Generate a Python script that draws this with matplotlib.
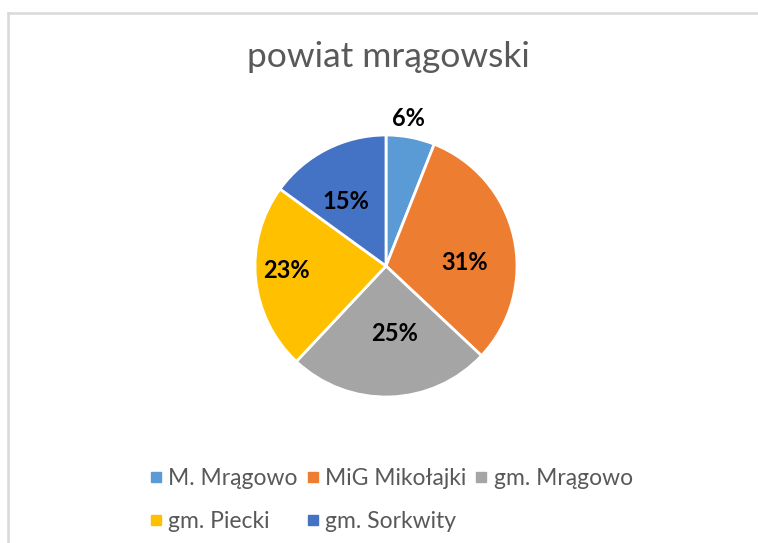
import matplotlib
matplotlib.use('Agg')
import matplotlib.pyplot as plt
from matplotlib.lines import Line2D
import numpy as np

plt.rcParams['font.family'] = ['Lato', 'DejaVu Sans']

# data
labels = ["M. Mrągowo", "MiG Mikołajki", "gm. Mrągowo", "gm. Piecki", "gm. Sorkwity"]
values = [6, 31, 25, 23, 15]
colors = ["#5B9BD5", "#ED7D31", "#A5A5A5", "#FFC000", "#4472C4"]
title = "powiat mrągowski"

# label placement (fraction of radius, angle shift in degrees), Excel "best fit" look
lab_r = [1.14, 0.60, 0.52, 0.76, 0.58]
lab_da = [2, -10, 5, -3, 5]

W, H = 758, 543
fig = plt.figure(figsize=(W / 100, H / 100), dpi=100)

# chart border (light grey, runs off right/bottom)
fig.add_artist(Line2D([7.5 / W, 1.0], [1 - 12.5 / H, 1 - 12.5 / H], color="#D9D9D9", lw=1.8))
fig.add_artist(Line2D([7.5 / W, 7.5 / W], [0, 1 - 12.5 / H], color="#D9D9D9", lw=1.8))

# pie axes: centre (386, 266), radius 131 px
cx, cy, r = 386, 266, 131
ax = fig.add_axes([(cx - r) / W, (H - cy - r) / H, 2 * r / W, 2 * r / H])
wedges, _ = ax.pie(values, colors=colors, startangle=90, counterclock=False,
                   radius=1.0, wedgeprops=dict(edgecolor="white", linewidth=2.0))
ax.set_xlim(-1, 1)
ax.set_ylim(-1, 1)
ax.set_aspect('equal')
ax.axis('off')

total = float(sum(values))
for w, v, rr, da in zip(wedges, values, lab_r, lab_da):
    ang = np.deg2rad((w.theta1 + w.theta2) / 2 + da)
    ax.text(rr * np.cos(ang), rr * np.sin(ang), "%d%%" % round(100 * v / total),
            ha="center", va="center", fontsize=17, fontweight="bold", color="black",
            clip_on=False)

fig.text(388 / W, 1 - 57 / H, title, ha="center", va="center", fontsize=25.5, color="#595959")

# legend, row-major order with 3 columns
handles = [Line2D([], [], marker="s", ls="none", color=c, markersize=6.5) for c in colors]
order = [0, 3, 1, 4, 2]
leg = fig.legend([handles[i] for i in order], [labels[i] for i in order],
                 ncol=3, loc="upper left", bbox_to_anchor=(151 / W, 1 - 468 / H),
                 frameon=False, fontsize=16.5, handlelength=0.4, handletextpad=0.35,
                 columnspacing=0.45, labelspacing=0.95, borderaxespad=0, borderpad=0)
for t in leg.get_texts():
    t.set_color("#595959")

fig.savefig("out.png", dpi=100, facecolor="white")
